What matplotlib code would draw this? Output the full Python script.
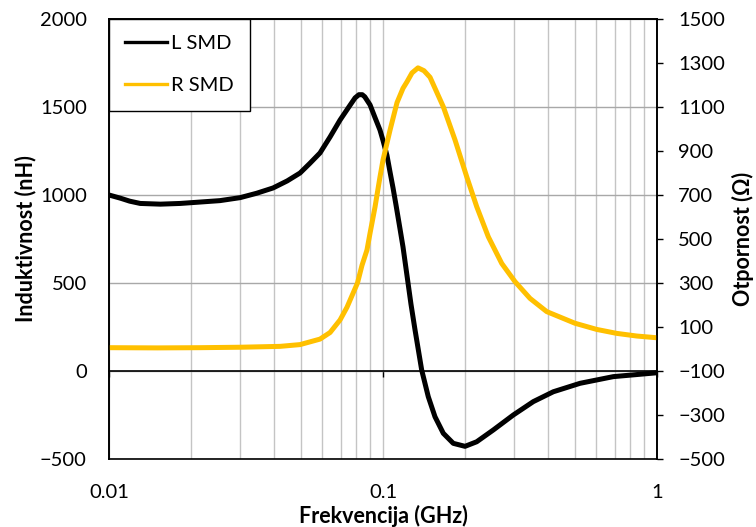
import matplotlib
matplotlib.use("Agg")
import matplotlib.pyplot as plt
from matplotlib.ticker import FixedLocator, FixedFormatter, NullFormatter, LogLocator
from matplotlib.lines import Line2D

plt.rcParams['font.family'] = ['Lato', 'DejaVu Sans']

# ---- data ----
freq_L = [0.0100, 0.0110, 0.0119, 0.0130, 0.0154, 0.0182, 0.0215, 0.0254, 0.0301,
          0.0346, 0.0397, 0.0447, 0.0498, 0.0541, 0.0589, 0.0641, 0.0697, 0.0758,
          0.0791, 0.0817, 0.0840, 0.0858, 0.0897, 0.0935, 0.0975, 0.1000, 0.1034,
          0.1061, 0.1088, 0.1115, 0.1153, 0.1183, 0.1224, 0.1265, 0.1309, 0.1384,
          0.1463, 0.1548, 0.1660, 0.1805, 0.1992, 0.2198, 0.2527, 0.2989, 0.3536,
          0.4183, 0.5236, 0.6927, 1.0000]
L_nH = [1000, 982, 965, 952, 948, 952, 960, 968, 985,
        1010, 1040, 1080, 1125, 1180, 1239, 1330, 1426, 1510,
        1552, 1570, 1570, 1558, 1512, 1440, 1369, 1310, 1225,
        1130, 1040, 945, 810, 705, 540, 380, 233, 6,
        -146, -260, -354, -411, -428, -402, -335, -250, -174,
        -118, -70, -32, -10]

freq_R = [0.0100, 0.0150, 0.0215, 0.0300, 0.0421, 0.0498, 0.0589, 0.0641, 0.0697,
          0.0739, 0.0807, 0.0838, 0.0874, 0.0897, 0.0935, 0.0975, 0.1000, 0.1061,
          0.1125, 0.1183, 0.1224, 0.1276, 0.1342, 0.1411, 0.1485, 0.1660, 0.1832,
          0.2021, 0.2198, 0.2423, 0.2712, 0.3033, 0.3440, 0.3958, 0.5021, 0.6026,
          0.7128, 0.8431, 1.0000]
R_ohm = [6, 5, 6, 8, 12, 20, 45, 75, 132,
         190, 300, 380, 450, 527, 645, 782, 859, 995,
         1120, 1185, 1215, 1255, 1278, 1265, 1235, 1101, 950,
         783, 647, 510, 389, 306, 230, 170, 117, 89,
         71, 59, 51]

x_ticks = [0.01, 0.1, 1]
x_ticklabels = ['0.01', '0.1', '1']
yl_ticks = [-500, 0, 500, 1000, 1500, 2000]
yr_ticks = [-500, -300, -100, 100, 300, 500, 700, 900, 1100, 1300, 1500]

label_L = 'L SMD'
label_R = 'R SMD'
col_L = '#000000'
col_R = '#FFC000'

fig = plt.figure(figsize=(7.56, 5.27), dpi=100)
W, H = 756, 527
x0, x1, y0, y1 = 109, 657, 19, 459
ax = fig.add_axes([x0 / W, 1 - y1 / H, (x1 - x0) / W, (y1 - y0) / H])
ax2 = ax.twinx()

ax.set_xscale('log')
ax.set_xlim(0.01, 1)
ax.set_ylim(-500, 2000)
ax2.set_ylim(-500, 1500)

fs = 14.5
ax.xaxis.set_major_locator(FixedLocator(x_ticks))
ax.xaxis.set_major_formatter(FixedFormatter(x_ticklabels))
ax.xaxis.set_minor_locator(LogLocator(base=10, subs=range(2, 10)))
ax.xaxis.set_minor_formatter(NullFormatter())
ax.yaxis.set_major_locator(FixedLocator(yl_ticks))
ax2.yaxis.set_major_locator(FixedLocator(yr_ticks))

# grid
ax.set_axisbelow(True)
ax.grid(which='both', axis='x', color='#c4c4c4', lw=1.0)
ax.grid(which='major', axis='y', color='#a8a8a8', lw=1.0)

# x axis crosses at y=0
ax.spines['bottom'].set_position(('data', 0))
ax.spines['bottom'].set_linewidth(1.2)
ax.tick_params(axis='x', which='major', direction='out', length=4.3, width=1.0,
               pad=77, labelsize=fs, colors='black')
ax.tick_params(axis='x', which='minor', length=0)
ax.tick_params(axis='y', length=0, pad=16, labelsize=fs)
ax2.tick_params(axis='y', direction='out', length=4.3, width=1.0, pad=11, labelsize=fs)

for sp in ['left', 'top', 'right']:
    ax.spines[sp].set_linewidth(1.2)
for sp in ax2.spines.values():
    sp.set_linewidth(1.2)

lL, = ax.plot(freq_L, L_nH, color=col_L, lw=3.6, solid_capstyle='round',
              solid_joinstyle='round', label=label_L)
lR, = ax2.plot(freq_R, R_ohm, color=col_R, lw=3.6, solid_capstyle='round',
               solid_joinstyle='round', label=label_R)

lab_fs = 15.5
ax.set_xlabel('Frekvencija (GHz)', fontsize=lab_fs, fontweight='bold')
ax.xaxis.set_label_coords(0.5, -0.104)
ax.set_ylabel('Induktivnost (nH)', fontsize=lab_fs, fontweight='bold')
ax.yaxis.set_label_coords(-0.133, 0.5)
ax2.set_ylabel('Otpornost (Ω)', fontsize=lab_fs, fontweight='bold')
ax2.yaxis.set_label_coords(1.137, 0.5)

h1 = Line2D([], [], color=col_L, lw=2.4)
h2 = Line2D([], [], color=col_R, lw=2.4)
leg = ax2.legend([h1, h2], [label_L, label_R], loc='upper left', bbox_to_anchor=(0, 1),
                 borderaxespad=0, frameon=True, fancybox=False, edgecolor='black',
                 framealpha=1, fontsize=fs, handlelength=2.1, handletextpad=0.2,
                 labelspacing=1.25, borderpad=0.8)
leg.get_frame().set_linewidth(1.0)

fig.savefig('out.png', dpi=100)
